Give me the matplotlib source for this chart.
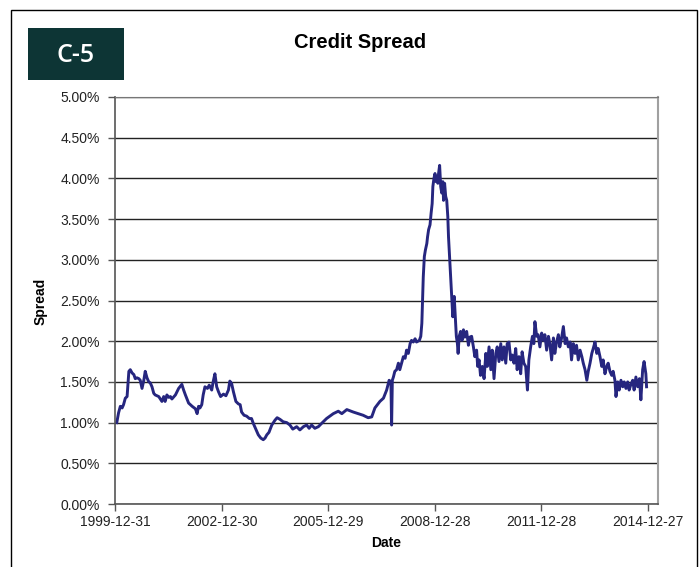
import matplotlib
matplotlib.use('Agg')
import matplotlib.pyplot as plt
from matplotlib.patches import Rectangle
from matplotlib.ticker import MultipleLocator, FuncFormatter
import pandas as pd

plt.rcParams['font.family'] = ['Liberation Sans', 'DejaVu Sans']

# time axis in decimal years (2000.00 = 1999-12-31), spread in percent
years = [
    2000.05, 2000.10, 2000.15, 2000.20, 2000.24, 2000.29, 2000.34, 2000.39, 2000.43, 2000.48,
    2000.53, 2000.57, 2000.62, 2000.67, 2000.71, 2000.76, 2000.81, 2000.85, 2000.90, 2000.95,
    2000.99, 2001.04, 2001.09, 2001.13, 2001.23, 2001.32, 2001.37, 2001.41, 2001.46, 2001.51,
    2001.56, 2001.60, 2001.70, 2001.79, 2001.88, 2001.93, 2001.98, 2002.07, 2002.17, 2002.26,
    2002.31, 2002.35, 2002.39, 2002.44, 2002.48, 2002.53, 2002.60, 2002.65, 2002.72, 2002.76,
    2002.81, 2002.86, 2002.91, 2002.97, 2003.05, 2003.12, 2003.19, 2003.23, 2003.28, 2003.33,
    2003.40, 2003.47, 2003.52, 2003.56, 2003.63, 2003.70, 2003.78, 2003.84, 2003.89, 2003.97,
    2004.03, 2004.10, 2004.17, 2004.22, 2004.27, 2004.33, 2004.41, 2004.50, 2004.56, 2004.64,
    2004.73, 2004.83, 2004.92, 2005.00, 2005.11, 2005.20, 2005.30, 2005.39, 2005.46, 2005.53,
    2005.62, 2005.72, 2005.81, 2005.95, 2006.14, 2006.28, 2006.38, 2006.52, 2006.70, 2006.84,
    2006.98, 2007.12, 2007.22, 2007.31, 2007.45, 2007.55, 2007.64, 2007.71, 2007.76, 2007.78,
    2007.80, 2007.83, 2007.87, 2007.92, 2007.97, 2008.01, 2008.06, 2008.11, 2008.16, 2008.20,
    2008.25, 2008.30, 2008.34, 2008.39, 2008.44, 2008.48, 2008.56, 2008.60, 2008.63, 2008.65,
    2008.67, 2008.70, 2008.73, 2008.77, 2008.79, 2008.82, 2008.86, 2008.89, 2008.92, 2008.94,
    2008.97, 2009.00, 2009.03, 2009.05, 2009.08, 2009.10, 2009.13, 2009.16, 2009.19, 2009.22,
    2009.24, 2009.27, 2009.30, 2009.33, 2009.36, 2009.38, 2009.41, 2009.44, 2009.47, 2009.50,
    2009.51, 2009.54, 2009.57, 2009.60, 2009.63, 2009.65, 2009.68, 2009.72, 2009.76, 2009.80,
    2009.84, 2009.89, 2009.94, 2009.98, 2010.03, 2010.08, 2010.12, 2010.17, 2010.20, 2010.24,
    2010.28, 2010.33, 2010.38, 2010.43, 2010.47, 2010.52, 2010.57, 2010.61, 2010.66, 2010.71,
    2010.75, 2010.80, 2010.85, 2010.89, 2010.94, 2010.99, 2011.03, 2011.08, 2011.13, 2011.17,
    2011.22, 2011.27, 2011.31, 2011.36, 2011.41, 2011.45, 2011.50, 2011.55, 2011.60, 2011.64,
    2011.69, 2011.74, 2011.78, 2011.81, 2011.86, 2011.90, 2011.95, 2012.00, 2012.05, 2012.09,
    2012.14, 2012.19, 2012.23, 2012.28, 2012.33, 2012.37, 2012.42, 2012.47, 2012.51, 2012.56,
    2012.61, 2012.66, 2012.70, 2012.75, 2012.80, 2012.84, 2012.89, 2012.94, 2012.98, 2013.03,
    2013.08, 2013.13, 2013.17, 2013.22, 2013.27, 2013.31, 2013.36, 2013.41, 2013.45, 2013.50,
    2013.55, 2013.59, 2013.64, 2013.69, 2013.73, 2013.78, 2013.83, 2013.87, 2013.92, 2013.97,
    2014.01, 2014.06, 2014.09, 2014.14, 2014.18, 2014.23, 2014.28, 2014.32, 2014.37, 2014.42,
    2014.46, 2014.51, 2014.56, 2014.60, 2014.65, 2014.70, 2014.75, 2014.79, 2014.84, 2014.88,
    2014.93, 2014.95,
]
spread = [
    1.00, 1.12, 1.20, 1.18, 1.22, 1.30, 1.32, 1.63, 1.65, 1.61,
    1.59, 1.54, 1.55, 1.54, 1.52, 1.42, 1.52, 1.63, 1.55, 1.50,
    1.49, 1.44, 1.36, 1.34, 1.32, 1.26, 1.32, 1.26, 1.34, 1.31,
    1.32, 1.29, 1.34, 1.42, 1.47, 1.40, 1.34, 1.24, 1.20, 1.17,
    1.11, 1.20, 1.18, 1.22, 1.34, 1.44, 1.42, 1.46, 1.40, 1.50,
    1.60, 1.44, 1.38, 1.32, 1.35, 1.33, 1.40, 1.51, 1.48, 1.38,
    1.26, 1.23, 1.22, 1.13, 1.09, 1.08, 1.05, 1.05, 0.99, 0.91,
    0.85, 0.81, 0.79, 0.81, 0.85, 0.88, 0.97, 1.03, 1.06, 1.04,
    1.01, 1.00, 0.97, 0.92, 0.95, 0.91, 0.95, 0.97, 0.93, 0.97,
    0.93, 0.95, 0.99, 1.05, 1.11, 1.14, 1.11, 1.16, 1.13, 1.11,
    1.09, 1.06, 1.07, 1.18, 1.26, 1.30, 1.40, 1.52, 1.50, 0.97,
    1.52, 1.56, 1.63, 1.65, 1.73, 1.65, 1.73, 1.81, 1.79, 1.89,
    1.85, 1.97, 2.01, 1.99, 2.03, 1.99, 2.01, 2.06, 2.22, 2.51,
    2.79, 3.04, 3.12, 3.20, 3.28, 3.37, 3.43, 3.57, 3.69, 3.90,
    4.00, 4.06, 3.96, 4.02, 3.94, 4.06, 4.16, 3.90, 3.82, 3.96,
    3.73, 3.94, 3.78, 3.73, 3.53, 3.28, 3.04, 2.79, 2.55, 2.30,
    2.47, 2.55, 2.30, 2.06, 1.97, 1.85, 2.06, 2.12, 2.01, 2.14,
    2.05, 2.12, 1.95, 2.05, 2.06, 1.93, 1.81, 1.89, 1.69, 1.77,
    1.58, 1.69, 1.54, 1.85, 1.69, 1.93, 1.65, 1.89, 1.54, 1.85,
    1.93, 1.75, 1.97, 1.77, 1.93, 1.73, 1.97, 1.99, 1.77, 1.83,
    1.73, 1.91, 1.65, 1.81, 1.60, 1.87, 1.73, 1.69, 1.40, 1.77,
    1.93, 2.06, 1.97, 2.24, 2.06, 2.08, 1.93, 2.10, 2.01, 2.08,
    1.89, 2.06, 1.97, 1.77, 2.04, 1.85, 1.99, 2.08, 1.93, 2.04,
    2.18, 1.97, 2.04, 1.93, 1.99, 1.77, 1.97, 1.85, 1.95, 1.77,
    1.89, 1.81, 1.73, 1.65, 1.52, 1.63, 1.73, 1.85, 1.91, 1.99,
    1.85, 1.91, 1.81, 1.69, 1.77, 1.60, 1.69, 1.73, 1.63, 1.58,
    1.63, 1.52, 1.32, 1.50, 1.40, 1.52, 1.44, 1.50, 1.42, 1.50,
    1.40, 1.47, 1.52, 1.40, 1.56, 1.44, 1.54, 1.28, 1.65, 1.75,
    1.60, 1.44,
]
tick_labels = ['1999-12-31', '2002-12-30', '2005-12-29', '2008-12-28', '2011-12-28', '2014-12-27']
x_end = '2015-04-09'


def to_date(y):
    base = pd.Timestamp('1999-12-31')
    return base + pd.Timedelta(days=(y - 2000.0) * 365.25)


dates = [to_date(y) for y in years]
tick_dates = pd.to_datetime(tick_labels)

W, H = 699, 567
fig = plt.figure(figsize=(W / 100, H / 100), dpi=100)

# outer frame
fig.patches.append(Rectangle((11 / W, -0.02), (697 - 11) / W, 1.02 - 10 / H,
                             transform=fig.transFigure, fill=False,
                             edgecolor='black', linewidth=1.0))

# C-5 badge
fig.patches.append(Rectangle((28 / W, 1 - 80 / H), 96 / W, 52 / H,
                             transform=fig.transFigure, facecolor='#0d3535',
                             edgecolor='none'))
fig.text(76 / W, 1 - 55 / H, 'C-5', color='white', fontsize=18, fontweight='semibold',
         family=['Open Sans', 'DejaVu Sans'], ha='center', va='center')

fig.text(360 / W, 1 - 43 / H, 'Credit Spread', fontsize=14.5, fontweight='bold',
         ha='center', va='center')

ax = fig.add_axes([115 / W, 1 - 504 / H, (658 - 115) / W, (504 - 97) / H])
ax.plot(dates, spread, color='#26267f', linewidth=2.1, solid_joinstyle='round')

ax.set_ylim(0, 5)
ax.yaxis.set_major_locator(MultipleLocator(0.5))
ax.yaxis.set_major_formatter(FuncFormatter(lambda v, p: f'{v:.2f}%'))
ax.set_xlim(pd.Timestamp('1999-12-31'), pd.Timestamp(x_end))
ax.set_xticks(tick_dates)
ax.set_xticklabels(tick_labels)

ax.grid(axis='y', color='#222222', linewidth=1.0)
ax.set_axisbelow(True)
for s in ['left', 'bottom']:
    ax.spines[s].set_color('#555555')
    ax.spines[s].set_linewidth(1.2)
ax.spines['top'].set_color('#777777')
ax.spines['right'].set_color('#a0a0a0')
ax.spines['right'].set_linewidth(1.5)

ax.tick_params(axis='y', length=5, width=1, color='#555555', pad=6, labelsize=10, labelcolor='#222222')
ax.tick_params(axis='x', length=5, width=1, color='#555555', pad=3, labelsize=10, labelcolor='#222222')

fig.text(41 / W, 1 - 301 / H, 'Spread', rotation=90, fontsize=10, fontweight='bold',
         ha='center', va='center')
fig.text(386 / W, 1 - 543 / H, 'Date', fontsize=10, fontweight='bold',
         ha='center', va='center')

fig.savefig('out.png', dpi=100)
